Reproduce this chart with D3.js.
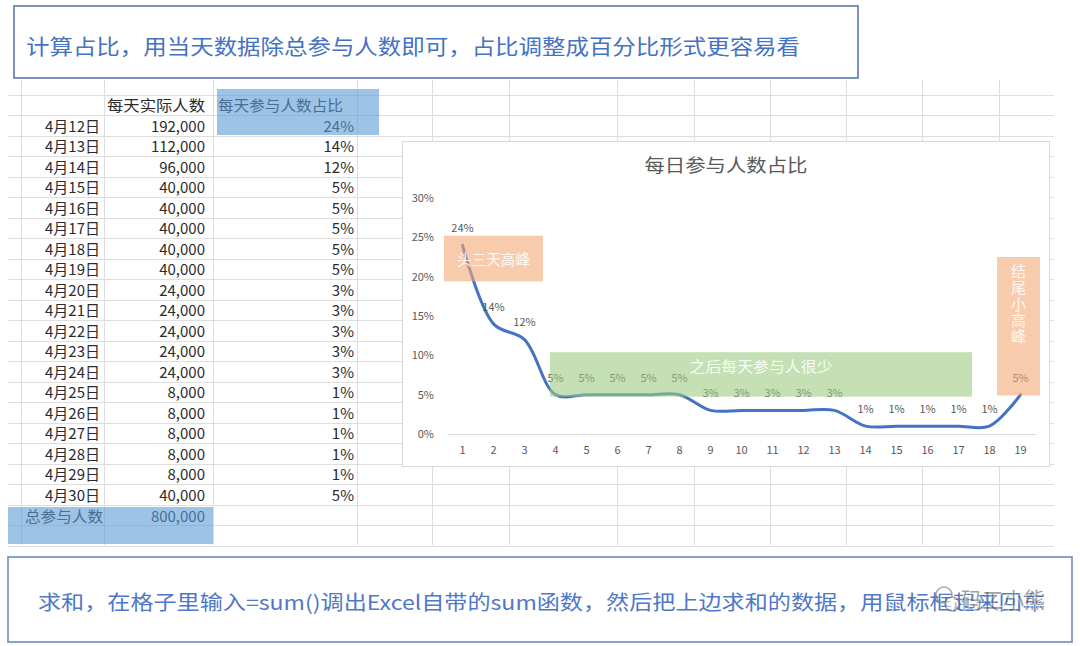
<!DOCTYPE html>
<html>
<head>
<meta charset="utf-8">
<script src="https://cdn.jsdelivr.net/npm/d3@7"></script>
<style>
  body { margin: 0; background: #fff; }
  svg { display: block; font-family: "Noto Sans CJK SC", "Noto Sans", sans-serif; }
</style>
</head>
<body>
<svg id="sheet" width="1080" height="646"></svg>
<script>
// table + chart data
const dates = ['4月12日', '4月13日', '4月14日', '4月15日', '4月16日', '4月17日', '4月18日',
  '4月19日', '4月20日', '4月21日', '4月22日', '4月23日', '4月24日', '4月25日', '4月26日',
  '4月27日', '4月28日', '4月29日', '4月30日'];
const dailyCount = [192000, 112000, 96000, 40000, 40000, 40000, 40000, 40000, 24000, 24000,
  24000, 24000, 24000, 8000, 8000, 8000, 8000, 8000, 40000];
const dailyShare = [24, 14, 12, 5, 5, 5, 5, 5, 3, 3, 3, 3, 3, 1, 1, 1, 1, 1, 5];
const dayIndex = [1, 2, 3, 4, 5, 6, 7, 8, 9, 10, 11, 12, 13, 14, 15, 16, 17, 18, 19];
const yTicks = [0, 5, 10, 15, 20, 25, 30];
const totalCount = 800000;
const headers = ['每天实际人数', '每天参与人数占比'];
const totalLabel = '总参与人数';

const svg = d3.select('#sheet');
const blue = '#4472C4';

// ---- spreadsheet grid ----
const rows = ['top', 'head'].concat(dates, ['total', 'e1', 'e2']);
const rowY = d3.scaleBand().domain(rows).range([74, 74 + rows.length * 20.5]);
const colEdges = [20.7, 104.3, 213.3, 356.7, 432, 509, 617, 694, 770, 846, 922, 999];

const grid = svg.append('g').attr('stroke', '#dedede').attr('stroke-width', 1);
grid.selectAll('.h')
  .data(rows.slice(1))
  .enter().append('line')
  .attr('x1', 8).attr('x2', 1054)
  .attr('y1', d => Math.round(rowY(d)) + 0.5)
  .attr('y2', d => Math.round(rowY(d)) + 0.5);
grid.selectAll('.v')
  .data(colEdges)
  .enter().append('line')
  .attr('y1', 80).attr('y2', 545)
  .attr('x1', d => Math.round(d) + 0.5)
  .attr('x2', d => Math.round(d) + 0.5);

const fmt = d3.format(',');
const mid = d => rowY(d) + rowY.bandwidth() / 2 + 1;
const table = svg.append('g').attr('font-size', 15).attr('fill', '#2b2b2b');

table.append('text').attr('x', 107).attr('y', mid('head')).attr('dy', '0.35em')
  .attr('textLength', 98).attr('lengthAdjust', 'spacingAndGlyphs').text(headers[0]);
table.append('text').attr('x', 218).attr('y', mid('head')).attr('dy', '0.35em')
  .attr('textLength', 125).attr('lengthAdjust', 'spacingAndGlyphs').text(headers[1]);

table.selectAll('.date')
  .data(dates)
  .enter().append('text')
  .attr('x', 100).attr('y', d => mid(d)).attr('dy', '0.35em')
  .attr('text-anchor', 'end')
  .text(d => d);
table.selectAll('.count')
  .data(dailyCount)
  .enter().append('text')
  .attr('x', 205).attr('y', (d, i) => mid(dates[i])).attr('dy', '0.35em')
  .attr('text-anchor', 'end')
  .text(d => fmt(d));
table.selectAll('.share')
  .data(dailyShare)
  .enter().append('text')
  .attr('x', 354).attr('y', (d, i) => mid(dates[i])).attr('dy', '0.35em')
  .attr('text-anchor', 'end')
  .text(d => d + '%');
table.append('text').attr('x', 25).attr('y', mid('total') + 1).attr('dy', '0.35em')
  .attr('textLength', 78).attr('lengthAdjust', 'spacingAndGlyphs').text(totalLabel);
table.append('text').attr('x', 205).attr('y', mid('total') + 1).attr('dy', '0.35em')
  .attr('text-anchor', 'end').text(fmt(totalCount));

// selection highlights
svg.append('rect').attr('x', 217).attr('y', 89).attr('width', 162).attr('height', 46)
  .attr('fill', '#5B9BD5').attr('opacity', 0.6);
svg.append('rect').attr('x', 8).attr('y', 507).attr('width', 205).attr('height', 37)
  .attr('fill', '#5B9BD5').attr('opacity', 0.6);

// ---- chart ----
svg.append('rect').attr('x', 402.5).attr('y', 141.5).attr('width', 647).attr('height', 325)
  .attr('fill', '#fff').attr('stroke', '#d9d9d9');

svg.append('text').attr('x', 726).attr('y', 166).attr('dy', '0.35em')
  .attr('text-anchor', 'middle').attr('font-size', 18).attr('fill', '#595959')
  .attr('textLength', 163).attr('lengthAdjust', 'spacingAndGlyphs')
  .text('每日参与人数占比');

const x = d3.scaleBand().domain(dayIndex).range([447, 1036]);
const y = d3.scaleLinear().domain([0, 30]).range([434, 198]);
const cx = d => x(d) + x.bandwidth() / 2;

const xAxis = svg.append('g')
  .attr('transform', 'translate(0,434)')
  .call(d3.axisBottom(x).tickSize(0).tickPadding(12));
xAxis.select('.domain').attr('stroke', '#d9d9d9').attr('stroke-width', 1.2);
xAxis.selectAll('text').attr('font-size', 11).attr('fill', '#595959')
  .attr('font-family', 'Noto Sans CJK SC, sans-serif');

const yAxis = svg.append('g')
  .attr('transform', 'translate(437,0)')
  .call(d3.axisLeft(y).tickValues(yTicks).tickFormat(d => d + '%').tickSize(0).tickPadding(3));
yAxis.select('.domain').remove();
yAxis.selectAll('text').attr('font-size', 11).attr('fill', '#595959')
  .attr('font-family', 'Noto Sans CJK SC, sans-serif');

const line = d3.line()
  .x((d, i) => cx(dayIndex[i]))
  .y(d => y(d))
  .curve(d3.curveCatmullRom.alpha(0.5));

svg.append('path')
  .datum(dailyShare)
  .attr('d', line)
  .attr('fill', 'none')
  .attr('stroke', blue)
  .attr('stroke-width', 3)
  .attr('stroke-linecap', 'round');

svg.append('g').selectAll('text')
  .data(dailyShare)
  .enter().append('text')
  .attr('x', (d, i) => cx(dayIndex[i]))
  .attr('y', d => y(d) - 17)
  .attr('dy', '0.35em')
  .attr('text-anchor', 'middle')
  .attr('font-size', 11)
  .attr('fill', '#595959')
  .text(d => d + '%');

// callout boxes (semi transparent, laid over the line)
const notes = svg.append('g');
notes.append('rect')
  .attr('x', x(1) - 3).attr('y', y(25.2))
  .attr('width', x(4) - x(1) + 6).attr('height', y(19.4) - y(25.2))
  .attr('fill', '#F3A876').attr('opacity', 0.6);
notes.append('text')
  .attr('x', (x(1) + x(4)) / 2).attr('y', y(22.2)).attr('dy', '0.35em')
  .attr('text-anchor', 'middle').attr('font-size', 15).attr('fill', '#fff').attr('fill-opacity', 0.9)
  .attr('textLength', 73).attr('lengthAdjust', 'spacingAndGlyphs')
  .text('头三天高峰');

const gx0 = x(4) + 10, gx1 = x(18) - 2;
notes.append('rect')
  .attr('x', gx0).attr('y', y(10.4))
  .attr('width', gx1 - gx0).attr('height', y(4.75) - y(10.4))
  .attr('fill', '#9ECB82').attr('opacity', 0.6);
notes.append('text')
  .attr('x', (gx0 + gx1) / 2).attr('y', y(8.5)).attr('dy', '0.35em')
  .attr('text-anchor', 'middle').attr('font-size', 15).attr('fill', '#fff').attr('fill-opacity', 0.9)
  .attr('textLength', 143).attr('lengthAdjust', 'spacingAndGlyphs')
  .text('之后每天参与人很少');

notes.append('rect')
  .attr('x', x(19) - 8).attr('y', y(22.5))
  .attr('width', 43).attr('height', y(4.9) - y(22.5))
  .attr('fill', '#F3A876').attr('opacity', 0.6);
notes.append('text')
  .attr('x', x(19) + 13.5)
  .attr('y', 264)
  .attr('writing-mode', 'vertical-rl')
  .attr('glyph-orientation-vertical', 0)
  .attr('letter-spacing', 1.2)
  .attr('font-size', 15).attr('fill', '#fff').attr('fill-opacity', 0.9)
  .text('结尾小高峰');

// ---- text boxes ----
svg.append('rect').attr('x', 14).attr('y', 6).attr('width', 844).attr('height', 72)
  .attr('fill', '#fff').attr('stroke', '#5877AE').attr('stroke-width', 1.6);
svg.append('text').attr('x', 26).attr('y', 47).attr('dy', '0.35em')
  .attr('font-size', 21).attr('fill', blue)
  .attr('textLength', 774).attr('lengthAdjust', 'spacingAndGlyphs')
  .text('计算占比，用当天数据除总参与人数即可，占比调整成百分比形式更容易看');

svg.append('rect').attr('x', 8).attr('y', 557).attr('width', 1064).attr('height', 85)
  .attr('fill', '#fff').attr('stroke', '#6C8EBF').attr('stroke-width', 1.6);
svg.append('text').attr('x', 38).attr('y', 603).attr('dy', '0.35em')
  .attr('font-size', 20).attr('fill', '#4F78C8')
  .attr('textLength', 1007).attr('lengthAdjust', 'spacingAndGlyphs')
  .text('求和，在格子里输入=sum()调出Excel自带的sum函数，然后把上边求和的数据，用鼠标框起来回车');

// watermark
const wm = svg.append('g').attr('opacity', 0.55);
wm.append('circle').attr('cx', 944).attr('cy', 595).attr('r', 8)
  .attr('fill', 'none').attr('stroke', '#666').attr('stroke-width', 1.5);
wm.append('circle').attr('cx', 952).attr('cy', 604).attr('r', 7)
  .attr('fill', '#fff').attr('stroke', '#666').attr('stroke-width', 1.5);
wm.append('text').attr('x', 961).attr('y', 600).attr('dy', '0.35em')
  .attr('font-size', 22).attr('fill', '#555').attr('stroke', '#fff').attr('stroke-width', 2)
  .attr('paint-order', 'stroke')
  .attr('textLength', 84).attr('lengthAdjust', 'spacingAndGlyphs')
  .text('码工小熊');
</script>
</body>
</html>
